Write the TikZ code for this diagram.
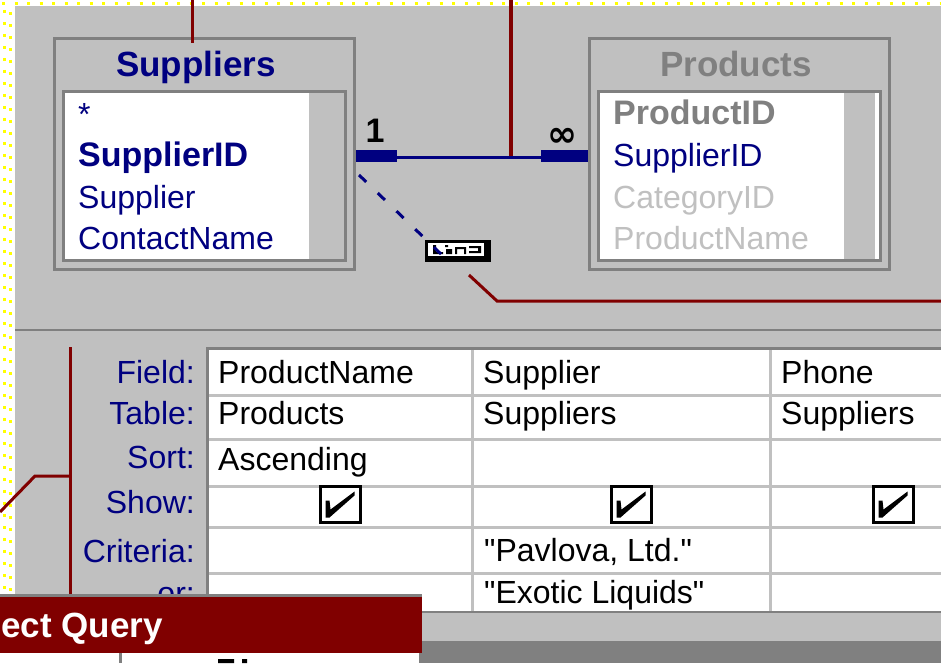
\documentclass[tikz,border=0pt]{standalone}
\usepackage{fontspec}
\setmainfont{Liberation Sans}[Ligatures=TeXOff]
\newfontfamily\djv{DejaVu Sans}
\definecolor{navy}{HTML}{000080}
\definecolor{dred}{HTML}{800000}
\definecolor{dgray}{HTML}{808080}
\definecolor{silver}{HTML}{C0C0C0}
\definecolor{yel}{HTML}{FFFF00}
\tikzset{
  tframe/.style={rectangle, draw=dgray, line width=3pt, inner sep=0pt, outer sep=1.5pt},
  fld/.style={anchor=base west, inner sep=0pt, font=\fontsize{32}{36}\selectfont},
  fldb/.style={anchor=base west, inner sep=0pt, font=\fontsize{34}{38}\selectfont\bfseries},
  ttl/.style={anchor=base, inner sep=0pt, font=\fontsize{35}{40}\selectfont\bfseries},
  rowlbl/.style={anchor=base east, inner sep=0pt, text=navy, font=\fontsize{32}{36}\selectfont},
  cell/.style={anchor=base west, inner sep=0pt, font=\fontsize{32}{36}\selectfont},
  chk/.style={rectangle, draw=black, line width=3pt, fill=white, minimum width=40pt, minimum height=36pt, inner sep=0pt},
  redln/.style={draw=dred, line width=3pt},
  gridln/.style={draw=silver, line width=3pt},
}
\begin{document}
\begin{tikzpicture}[x=1pt,y=-1pt]
\useasboundingbox (0,0) rectangle (941,663);
\clip (0,0) rectangle (941,663);
\fill[white] (0,0) rectangle (941,663);
% yellow dotted borders
\draw[yel, line width=3pt, dash pattern=on 3pt off 9.5pt] (2,4) -- (941,4);
\draw[yel, line width=3pt, dash pattern=on 3pt off 9pt] (4,10) -- (4,594);
\draw[yel, line width=3pt, dash pattern=on 3pt off 9pt, dash phase=6pt] (10,6) -- (10,594);
% panes
\fill[silver] (15,6) rectangle (941,663);
\fill[dgray] (15,329) rectangle (941,331);

% Suppliers table
\node[tframe, minimum width=300pt, minimum height=231pt] (sup) at (204.5,154) {};
\node[tframe, fill=white, minimum width=282pt, minimum height=169pt] (supin) at (204.5,176) {};
\fill[silver] (309,93) rectangle (344,259);
\node[ttl, text=navy] (supT) at (196,77) {Suppliers};
\node[fld, text=navy] (s0) at (78,126) {*};
\node[fldb, text=navy] (s1) at (78,167) {SupplierID};
\node[fld, text=navy] (s2) at (78,208) {Supplier};
\node[fld, text=navy] (s3) at (78,249) {ContactName};

% Products table
\node[tframe, minimum width=300pt, minimum height=231pt] (prod) at (739.5,154) {};
\node[tframe, fill=white, minimum width=282pt, minimum height=169pt] (prodin) at (739.5,176) {};
\fill[silver] (844,93) rectangle (875,259);
\node[ttl, text=dgray] (prodT) at (736,77) {Products};
\node[fldb, text=dgray] (p0) at (613,125) {ProductID};
\node[fld, text=navy] (p1) at (613,167) {SupplierID};
\node[fld, text=silver] (p2) at (613,208) {CategoryID};
\node[fld, text=silver] (p3) at (613,249) {ProductName};

% dark red lines top
\coordinate (t1) at (192,0);
\draw[redln] (t1) -- (sup.north -| t1) -- ++(0,6);
\coordinate (t2) at (511,0);
\coordinate (t2b) at (511,156);
\draw[dred, line width=4pt] (t2) -- (t2b);

% relationship
\coordinate (a1) at (397,156);
\coordinate (a2) at (541,156);
\draw[navy, line width=12pt] (sup.east |- a1) -- (a1);
\draw[navy, line width=3pt] ([yshift=-1.5pt]a1) -- ([yshift=-1.5pt]a2);
\draw[navy, line width=12pt] (a2) -- (prod.west |- a2);
\node[anchor=base, inner sep=0pt, font=\fontsize{34}{38}\selectfont\bfseries] (one) at (375,143) {1};
\node[anchor=base, inner sep=0pt, font=\djv\fontsize{36}{40}\selectfont\bfseries] (inf) at (562,147) {∞};

% join label
\node[rectangle, fill=black, minimum width=66pt, minimum height=22pt, inner sep=0pt] (lbl) at (458,251) {};
\fill[white] (428,243) rectangle (484,256);
\fill[black] (433,245) rectangle (436,254) (433,252) rectangle (443,254)
             (445,245) rectangle (448,247) (446,249) rectangle (452,254)
             (455,247) rectangle (466,249) (455,247) rectangle (457,254) (464,247) rectangle (466,254)
             (469,246) rectangle (481,248) (478,246) rectangle (481,252) (469,251) rectangle (481,253);
\coordinate (js) at (359,175);
\coordinate (je) at (443,256);
\draw[navy, line width=3pt, dash pattern=on 10pt off 16pt] (js) -- (je);

% red line to right
\coordinate (r1) at (469,275);
\coordinate (r2) at (497,301);
\coordinate (r3) at (941,301);
\draw[redln] (r1) -- (r2) -- (r3);

% design grid
\fill[white] (209,350) rectangle (941,611);
\foreach \yy in {395.5,439.5,486,527,573.5} \draw[gridln] (209,\yy) -- (941,\yy);
\foreach \xx in {472.5,770.5} \draw[gridln] (\xx,350) -- (\xx,611);
\fill[dgray] (206,347) rectangle (941,350);
\fill[dgray] (206,347) rectangle (209,613);
\fill[dgray] (206,611) rectangle (941,613);

\node[rowlbl] (lf) at (195,383) {Field:};
\node[rowlbl] (lt) at (195,424) {Table:};
\node[rowlbl] (ls) at (195,468) {Sort:};
\node[rowlbl] (lsh) at (195,513) {Show:};
\node[rowlbl] (lc) at (195,562) {Criteria:};
\node[rowlbl] (lo) at (195,604) {or:};

\node[cell] (c11) at (218,383) {ProductName};
\node[cell] (c12) at (218,424) {Products};
\node[cell] (c13) at (218,470) {Ascending};
\node[cell] (c21) at (483,383) {Supplier};
\node[cell] (c22) at (483,424) {Suppliers};
\node[cell] (c25) at (484,561) {"Pavlova, Ltd."};
\node[cell] (c26) at (484,603) {"Exotic Liquids"};
\node[cell] (c31) at (781,383) {Phone};
\node[cell] (c32) at (781,424) {Suppliers};

\node[chk] (cb1) at (340.5,504.5) {};
\node[chk] (cb2) at (631.5,504.5) {};
\node[chk] (cb3) at (893.5,504.5) {};
\foreach \c in {cb1,cb2,cb3}
  \fill[black] ([shift={(-15,-4)}]\c.center) -- ([shift={(-11,-4)}]\c.center) -- ([shift={(-10,5)}]\c.center)
    -- ([shift={(14,-13)}]\c.center) -- ([shift={(14,-9)}]\c.center) -- ([shift={(-11,13)}]\c.center)
    -- ([shift={(-15,13)}]\c.center) -- cycle;

% red lines lower left
\coordinate (q0) at (0,512);
\coordinate (q1) at (35,476);
\coordinate (q2) at (70,476);
\coordinate (q3) at (70,347);
\coordinate (q4) at (70,597);
\draw[redln] (q0) -- (q1) -- (q2);
\draw[redln] (q3) -- (q4);

% bottom area
\fill[dgray] (419,641) rectangle (941,663);
\fill[white] (0,653) rectangle (419,663);
\fill[dgray] (119,653) rectangle (122,663);
\fill[black] (218,659) rectangle (234,663) (242,659) rectangle (247,663);
\fill[dgray] (0,594) rectangle (422,597);
\node[rectangle, fill=dred, minimum width=422pt, minimum height=56pt, inner sep=0pt, anchor=north west] (bar) at (0,597) {};
\node[anchor=base west, inner sep=0pt, text=white, font=\fontsize{35}{40}\selectfont\bfseries] (barT) at (1,637) {ect Query};
\end{tikzpicture}
\end{document}
